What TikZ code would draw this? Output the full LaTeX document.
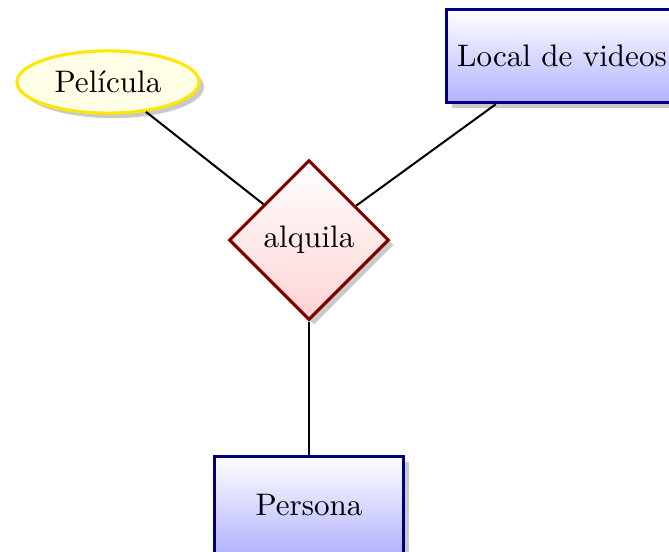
\documentclass[tikz,border=0pt]{standalone}
\usetikzlibrary{shapes.geometric,shadows}
\begin{document}
\begin{tikzpicture}[x=0.3215pt,y=-0.3215pt,
  entity/.style={draw=blue!50!black,line width=1pt,top color=white,bottom color=blue!30,
    drop shadow={shadow xshift=1.6pt,shadow yshift=-1.6pt,fill=black!60,opacity=.35},inner sep=0pt},
  relation/.style={diamond,aspect=1,draw=red!50!black,line width=1pt,top color=white,bottom color=red!17,
    drop shadow={shadow xshift=1.6pt,shadow yshift=-1.6pt,fill=black!60,opacity=.35},inner sep=0pt,
    minimum width=51.4pt,minimum height=51.4pt},
  attrib/.style={ellipse,draw=yellow!90!orange,line width=1pt,fill=yellow!10,
    drop shadow={shadow xshift=1.6pt,shadow yshift=-1.6pt,fill=black!60,opacity=.35},inner sep=0pt,
    minimum width=58.5pt,minimum height=20pt},
  link/.style={line width=0.65pt,black}]
\useasboundingbox (0,0) rectangle (669,551);
\clip (0,0) rectangle (669,551);
\node[attrib] (pel) at (108,82) {Película};
\node[entity,minimum width=74pt,minimum height=30pt] (local) at (562,56) {Local de videos};
\node[relation] (alq) at (309,240) {alquila};
\node[entity,minimum width=61pt,minimum height=31pt] (per) at (309,505) {Persona};
\draw[link] (pel) -- (alq);
\draw[link] (local) -- (alq);
\draw[link] (alq) -- (per);
\end{tikzpicture}
\end{document}
